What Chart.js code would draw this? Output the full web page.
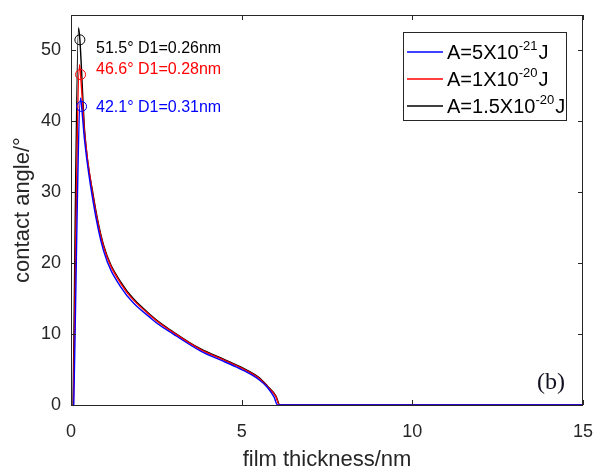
<!DOCTYPE html>
<html>
<head>
<meta charset="utf-8">
<script src="https://cdn.jsdelivr.net/npm/chart.js@4/dist/chart.umd.min.js"></script>
<style>
  html, body { margin: 0; padding: 0; background: #ffffff; }
  #wrap { width: 597px; height: 471px; position: relative; }
</style>
</head>
<body>
<div id="wrap"><canvas id="c" width="597" height="471"></canvas></div>
<script>
// Contact angle versus film thickness for three Hamaker constants
const thicknessBlue  = [0.08, 0.28, 0.31, 0.4, 0.65, 0.95, 1.45, 2.4, 3.0, 3.8, 4.5, 5.0, 5.5, 5.75, 5.95, 6.05, 15];
const angleBlue      = [0, 43.3, 42.1, 37.2, 28.6, 21.8, 16.7, 12.0, 10.0, 7.6, 6.1, 5.0, 3.6, 2.5, 1.1, 0, 0];

const thicknessRed   = [0.07, 0.25, 0.28, 0.4, 0.65, 0.95, 1.45, 2.4, 3.0, 3.8, 4.5, 5.0, 5.5, 5.75, 6.0, 6.1, 15];
const angleRed       = [0, 48.0, 46.6, 38.2, 29.3, 22.4, 17.2, 12.3, 10.2, 7.8, 6.3, 5.2, 3.8, 2.6, 1.2, 0, 0];

const thicknessBlack = [0.06, 0.22, 0.26, 0.4, 0.65, 0.95, 1.45, 2.4, 3.0, 3.8, 4.5, 5.0, 5.5, 5.75, 6.0, 6.12, 15];
const angleBlack     = [0, 53.2, 51.5, 38.6, 29.6, 22.6, 17.4, 12.4, 10.3, 7.9, 6.4, 5.3, 3.9, 2.7, 1.3, 0, 0];

// Marked maxima (blue, red, black)
const peakThickness = [0.31, 0.28, 0.26];
const peakAngle     = [42.1, 46.6, 51.5];

// Legend entries: A = mantissa x 10^exponent J
const legendMantissa = ['5', '1', '1.5'];
const legendExponent = ['-21', '-20', '-20'];

const xTicks = [0, 5, 10, 15];
const yTicks = [0, 10, 20, 30, 40, 50];

const seriesColors = ['#0000ff', '#ff0000', '#000000'];
const AXIS = '#262626';
const SANS = '"Liberation Sans", Arial, sans-serif';

function pts(xs, ys) { return xs.map((x, i) => ({ x: x, y: ys[i] })); }

const curves = [
  pts(thicknessBlue, angleBlue),
  pts(thicknessRed, angleRed),
  pts(thicknessBlack, angleBlack)
];

const datasets = [];
// black drawn first, blue last
[2, 1, 0].forEach((k, n) => {
  datasets.push({
    type: 'scatter',
    data: curves[k],
    showLine: true,
    borderColor: seriesColors[k],
    borderWidth: 1.4,
    pointRadius: 0,
    cubicInterpolationMode: 'monotone',
    order: 10 - n
  });
});
peakThickness.forEach((x, k) => {
  datasets.push({
    type: 'scatter',
    data: [{ x: x, y: peakAngle[k] }],
    showLine: false,
    pointStyle: 'circle',
    pointRadius: 5,
    pointBorderWidth: 1,
    pointBorderColor: seriesColors[k],
    pointBackgroundColor: 'rgba(0,0,0,0)',
    order: 0
  });
});

// Frame box and inward tick marks on all four sides
const framePlugin = {
  id: 'frame',
  afterDatasetsDraw(chart) {
    const { ctx, chartArea: a, scales } = chart;
    const L = 5;
    ctx.save();
    ctx.strokeStyle = AXIS;
    ctx.lineWidth = 1;
    ctx.strokeRect(a.left + 0.5, a.top + 0.5, a.right - a.left - 1, a.bottom - a.top);
    ctx.beginPath();
    xTicks.forEach(v => {
      const px = Math.round(scales.x.getPixelForValue(v)) + 0.5;
      ctx.moveTo(px, a.bottom); ctx.lineTo(px, a.bottom - L);
      ctx.moveTo(px, a.top); ctx.lineTo(px, a.top + L);
    });
    yTicks.forEach(v => {
      const py = Math.round(scales.y.getPixelForValue(v)) + 0.5;
      ctx.moveTo(a.left, py); ctx.lineTo(a.left + L, py);
      ctx.moveTo(a.right, py); ctx.lineTo(a.right - L, py);
    });
    ctx.stroke();
    ctx.restore();
  }
};

// Peak labels, legend box and panel tag
const notesPlugin = {
  id: 'notes',
  afterDraw(chart) {
    const { ctx, chartArea: a } = chart;
    ctx.save();

    // peak labels, black / red / blue from top
    const labelY = [a.top + 34, a.top + 55, a.top + 93];
    const orderK = [2, 1, 0];
    ctx.font = '16px ' + SANS;
    ctx.textBaseline = 'middle';
    ctx.textAlign = 'left';
    orderK.forEach((k, i) => {
      ctx.fillStyle = seriesColors[k];
      ctx.fillText(peakAngle[k] + '\u00b0 D1=' + peakThickness[k] + 'nm', a.left + 25, labelY[i]);
    });

    // legend
    const bx = 403.5, by = 32.5, bw = 163, bh = 88;
    ctx.fillStyle = '#ffffff';
    ctx.fillRect(bx, by, bw, bh);
    ctx.strokeStyle = AXIS;
    ctx.lineWidth = 1;
    ctx.strokeRect(bx, by, bw, bh);
    const rowY = [52, 79, 106];
    legendMantissa.forEach((m, k) => {
      const y = rowY[k];
      ctx.strokeStyle = seriesColors[k];
      ctx.lineWidth = 1.5;
      ctx.beginPath();
      ctx.moveTo(407, y); ctx.lineTo(443, y);
      ctx.stroke();
      ctx.fillStyle = '#000000';
      ctx.textBaseline = 'alphabetic';
      let x = 447;
      ctx.font = '20px ' + SANS;
      const base = 'A=' + m + 'X10';
      ctx.fillText(base, x, y + 7);
      x += ctx.measureText(base).width;
      ctx.font = '13px ' + SANS;
      ctx.fillText(legendExponent[k], x, y - 2);
      x += ctx.measureText(legendExponent[k]).width + 1;
      ctx.font = '20px ' + SANS;
      ctx.fillText('J', x, y + 7);
    });

    // panel tag
    ctx.fillStyle = '#111122';
    ctx.font = '24px "Liberation Serif", "Times New Roman", serif';
    ctx.textAlign = 'center';
    ctx.textBaseline = 'middle';
    ctx.fillText('(b)', a.right - 32, a.bottom - 22);
    ctx.restore();
  }
};

new Chart(document.getElementById('c'), {
  type: 'scatter',
  data: { datasets: datasets },
  options: {
    responsive: false,
    animation: false,
    events: [],
    layout: { padding: { left: 0, right: 14, top: 15, bottom: 0 } },
    plugins: { legend: { display: false }, tooltip: { enabled: false } },
    scales: {
      x: {
        type: 'linear',
        min: 0, max: 15,
        afterBuildTicks(s) { s.ticks = xTicks.map(v => ({ value: v })); },
        afterFit(s) { s.height = 66; s.paddingLeft = 0; s.paddingRight = 0; },
        grid: { display: false, drawTicks: false },
        border: { display: false },
        ticks: { padding: 16, color: AXIS, font: { family: SANS, size: 18 }, maxRotation: 0 },
        title: {
          display: true, text: 'film thickness/nm', color: AXIS,
          font: { family: SANS, size: 22, lineHeight: 1 },
          padding: { top: 0, bottom: 0 }
        }
      },
      y: {
        type: 'linear',
        min: 0, max: 55,
        afterBuildTicks(s) { s.ticks = yTicks.map(v => ({ value: v })); },
        afterFit(s) { s.width = 71; s.paddingTop = 0; s.paddingBottom = 0; },
        grid: { display: false, drawTicks: false },
        border: { display: false },
        ticks: { padding: 10, color: AXIS, font: { family: SANS, size: 18 } },
        title: {
          display: true, text: 'contact angle/\u00b0', color: AXIS,
          font: { family: SANS, size: 22, lineHeight: 1 },
          padding: { top: 12, bottom: 0 }
        }
      }
    }
  },
  plugins: [framePlugin, notesPlugin]
});
</script>
</body>
</html>
